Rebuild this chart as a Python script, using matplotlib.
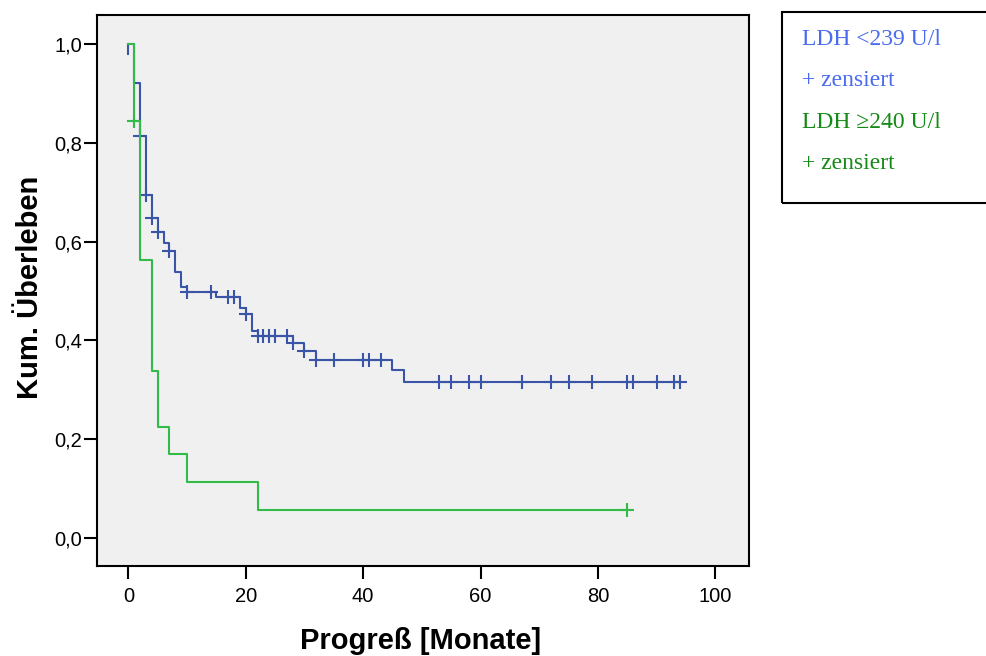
import numpy as np
import matplotlib
matplotlib.use("Agg")
import matplotlib.pyplot as plt
from matplotlib.patches import Rectangle

plt.rcParams['font.family'] = ['Liberation Sans', 'DejaVu Sans']

# LDH < 239 U/l: event times and survival after each step
blue_times = [0, 0, 1, 2, 3, 4, 5, 6, 7, 8, 9, 10, 15, 19, 20, 21, 22, 28, 30, 32, 45, 47]
blue_surv = [0.98, 1.0, 0.921, 0.813, 0.694, 0.647, 0.619, 0.598, 0.580, 0.539, 0.509,
             0.498, 0.488, 0.466, 0.454, 0.418, 0.408, 0.394, 0.378, 0.360, 0.339, 0.316]
blue_end = 94
blue_cens = [2, 3, 4, 5, 7, 10, 14, 17, 18, 20, 22, 23, 24, 25, 27, 28, 30, 32, 35, 40, 41, 43,
             53, 55, 58, 60, 67, 72, 75, 79, 85, 86, 90, 93, 94]

# LDH >= 240 U/l
green_times = [0, 1, 2, 4, 5, 7, 10, 22]
green_surv = [1.0, 0.844, 0.5625, 0.338, 0.225, 0.169, 0.113, 0.056]
green_end = 85
green_cens = [1, 85]

x_ticks = [0, 20, 40, 60, 80, 100]
y_ticks = [0.0, 0.2, 0.4, 0.6, 0.8, 1.0]
y_ticklabels = ['0,0', '0,2', '0,4', '0,6', '0,8', '1,0']

legend_labels = ['LDH <239 U/l', '+ zensiert', 'LDH \u2265240 U/l', '+ zensiert']

blue = '#3A55A8'
green = '#33BB4A'
blue_txt = '#4A6BF0'
green_txt = '#168A16'


def surv_at(times, surv, t):
    i = np.searchsorted(times, t, side='right') - 1
    return surv[i]


fig = plt.figure(figsize=(9.87, 6.56), dpi=100)
ax = fig.add_axes([96.7 / 987, 1 - 566 / 656, 652.6 / 987, 551 / 656])
ax.set_facecolor('#F0F0F0')

for times, surv, end, cens, col in [(blue_times, blue_surv, blue_end, blue_cens, blue),
                                     (green_times, green_surv, green_end, green_cens, green)]:
    xs = list(times) + [end]
    ys = list(surv) + [surv[-1]]
    ax.step(xs, ys, where='post', color=col, lw=1.5)
    cy = [surv_at(times, surv, t) for t in cens]
    ax.plot(cens, cy, ls='none', marker='+', ms=9.5, mew=1.5, color=col)

ax.set_xlim(-5.4, 105.8)
ax.set_ylim(-0.057, 1.059)
ax.set_xticks(x_ticks)
ax.set_yticks(y_ticks)
ax.set_yticklabels(y_ticklabels)
ax.tick_params(direction='out', length=9.5, width=1.5, labelsize=14.5, colors='black')
ax.tick_params(axis='x', pad=5.5)
ax.tick_params(axis='y', pad=0.8)
for s in ax.spines.values():
    s.set_linewidth(1.5)

ax.set_xlabel('Progreß [Monate]', fontsize=21, fontweight='bold')
ax.xaxis.set_label_coords(0.4962, -0.1506)
ax.xaxis.label.set_verticalalignment('baseline')
ax.set_ylabel('Kum. Überleben', fontsize=21, fontweight='bold')
ax.yaxis.set_label_coords(-0.0899, 0.5054)
ax.yaxis.label.set_verticalalignment('baseline')

# legend box drawn by hand, SPSS style
fig.patches.append(Rectangle((782 / 987, 1 - 203 / 656), 0.3, 191 / 656,
                             transform=fig.transFigure, fill=False,
                             edgecolor='black', lw=1.5))
baselines = [45, 86, 127.5, 169]
for lab, yb, col in zip(legend_labels, baselines, [blue_txt, blue_txt, green_txt, green_txt]):
    fig.text(802 / 987, 1 - yb / 656, lab, color=col, fontsize=17, va='baseline',
             family=['Liberation Serif', 'DejaVu Serif'])

fig.savefig('out.png', dpi=100)
